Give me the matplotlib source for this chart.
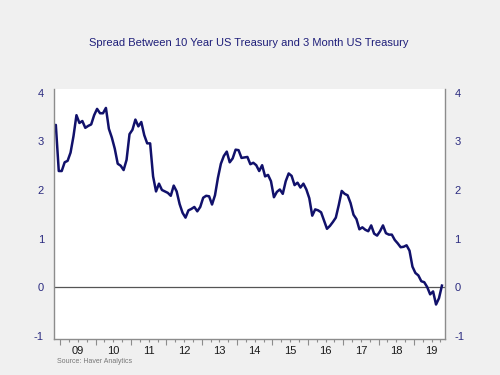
import numpy as np
import pandas as pd
import matplotlib
matplotlib.use("Agg")
import matplotlib.pyplot as plt
from matplotlib.ticker import MultipleLocator

plt.rcParams["axes.unicode_minus"] = False

# monthly spread (10Y minus 3M), Oct 2008 .. Oct 2019
start_month = "2008-10"
spread = [
    3.14, 3.34, 2.39,
    2.39, 2.57, 2.60, 2.77, 3.11, 3.54, 3.38, 3.42, 3.28, 3.32, 3.35, 3.54,
    3.67, 3.58, 3.58, 3.69, 3.26, 3.08, 2.85, 2.54, 2.50, 2.41, 2.62, 3.15,
    3.24, 3.45, 3.31, 3.40, 3.13, 2.96, 2.96, 2.28, 1.97, 2.13, 2.00, 1.97,
    1.94, 1.88, 2.09, 1.97, 1.71, 1.53, 1.43, 1.58, 1.61, 1.65, 1.56, 1.65,
    1.84, 1.88, 1.87, 1.70, 1.89, 2.25, 2.54, 2.70, 2.79, 2.57, 2.65, 2.83,
    2.82, 2.66, 2.67, 2.68, 2.53, 2.56, 2.51, 2.39, 2.51, 2.28, 2.31, 2.18,
    1.85, 1.96, 2.01, 1.92, 2.18, 2.34, 2.29, 2.10, 2.15, 2.05, 2.13, 2.01,
    1.83, 1.47, 1.60, 1.58, 1.54, 1.37, 1.20, 1.26, 1.34, 1.43, 1.69, 1.98,
    1.92, 1.89, 1.73, 1.49, 1.40, 1.19, 1.23, 1.18, 1.15, 1.27, 1.10, 1.06,
    1.15, 1.27, 1.11, 1.08, 1.08, 0.97, 0.90, 0.82, 0.83, 0.86, 0.75, 0.42,
    0.29, 0.24, 0.12, 0.10, 0.00, -0.15, -0.09, -0.36, -0.23, 0.03,
]
years = list(range(2009, 2020))
year_labels = ["09", "10", "11", "12", "13", "14", "15", "16", "17", "18", "19"]
y_ticks = [-1, 0, 1, 2, 3, 4]

title = "Spread Between 10 Year US Treasury and 3 Month US Treasury"
source = "Source: Haver Analytics"

# decimal-year positions at mid-month
dates = pd.date_range(start_month, periods=len(spread), freq="MS")
xpos = dates.year + (dates.month - 0.5) / 12.0

navy = "#11116b"
label_blue = "#2b2b80"
spine_gray = "#8c8c8c"

fig = plt.figure(figsize=(5, 3.75), dpi=100, facecolor="#f0f0f0")
ax = fig.add_axes([0.1074, 0.096, 0.782, 0.6667])
ax.set_facecolor("white")

ax.axhline(0, color="#555555", lw=0.9, zorder=1)
ax.plot(xpos, spread, color=navy, lw=1.8, solid_joinstyle="round", zorder=2)

ax.set_xlim(2008.815, 2019.87)
ax.set_ylim(-1.07, 4.08)

# y axis labels on both sides, no tick marks
ax.set_yticks(y_ticks)
ax.tick_params(axis="y", length=0, pad=7, labelsize=8, labelcolor=label_blue,
               left=True, right=True, labelleft=True, labelright=True)

# x axis: year ticks + quarterly minor ticks, labels centered in each year
ax.set_xticks(years)
ax.set_xticklabels([])
ax.xaxis.set_minor_locator(MultipleLocator(0.25))
ax.tick_params(axis="x", which="major", length=4, width=0.8, color=spine_gray)
ax.tick_params(axis="x", which="minor", length=2.5, width=0.8, color=spine_gray)

sec = ax.secondary_xaxis("bottom")
sec.set_xticks([y + 0.5 for y in years], year_labels)
sec.tick_params(length=0, pad=5, labelsize=8, labelcolor="#1a1a1a")
sec.spines["bottom"].set_visible(False)

for side in ["left", "right", "bottom"]:
    ax.spines[side].set_color(spine_gray)
    ax.spines[side].set_linewidth(1.0)
ax.spines["top"].set_visible(False)

fig.text(0.498, 0.8845, title, ha="center", va="center", fontsize=8,
         color="#1f1f7a", family="Liberation Sans")
fig.text(0.114, 0.036, source, ha="left", va="center", fontsize=5,
         color="#777777", family="Liberation Sans")

for lab in ax.get_yticklabels() + sec.get_xticklabels():
    lab.set_family("Liberation Sans")

fig.savefig("out.png", dpi=100, facecolor=fig.get_facecolor())
